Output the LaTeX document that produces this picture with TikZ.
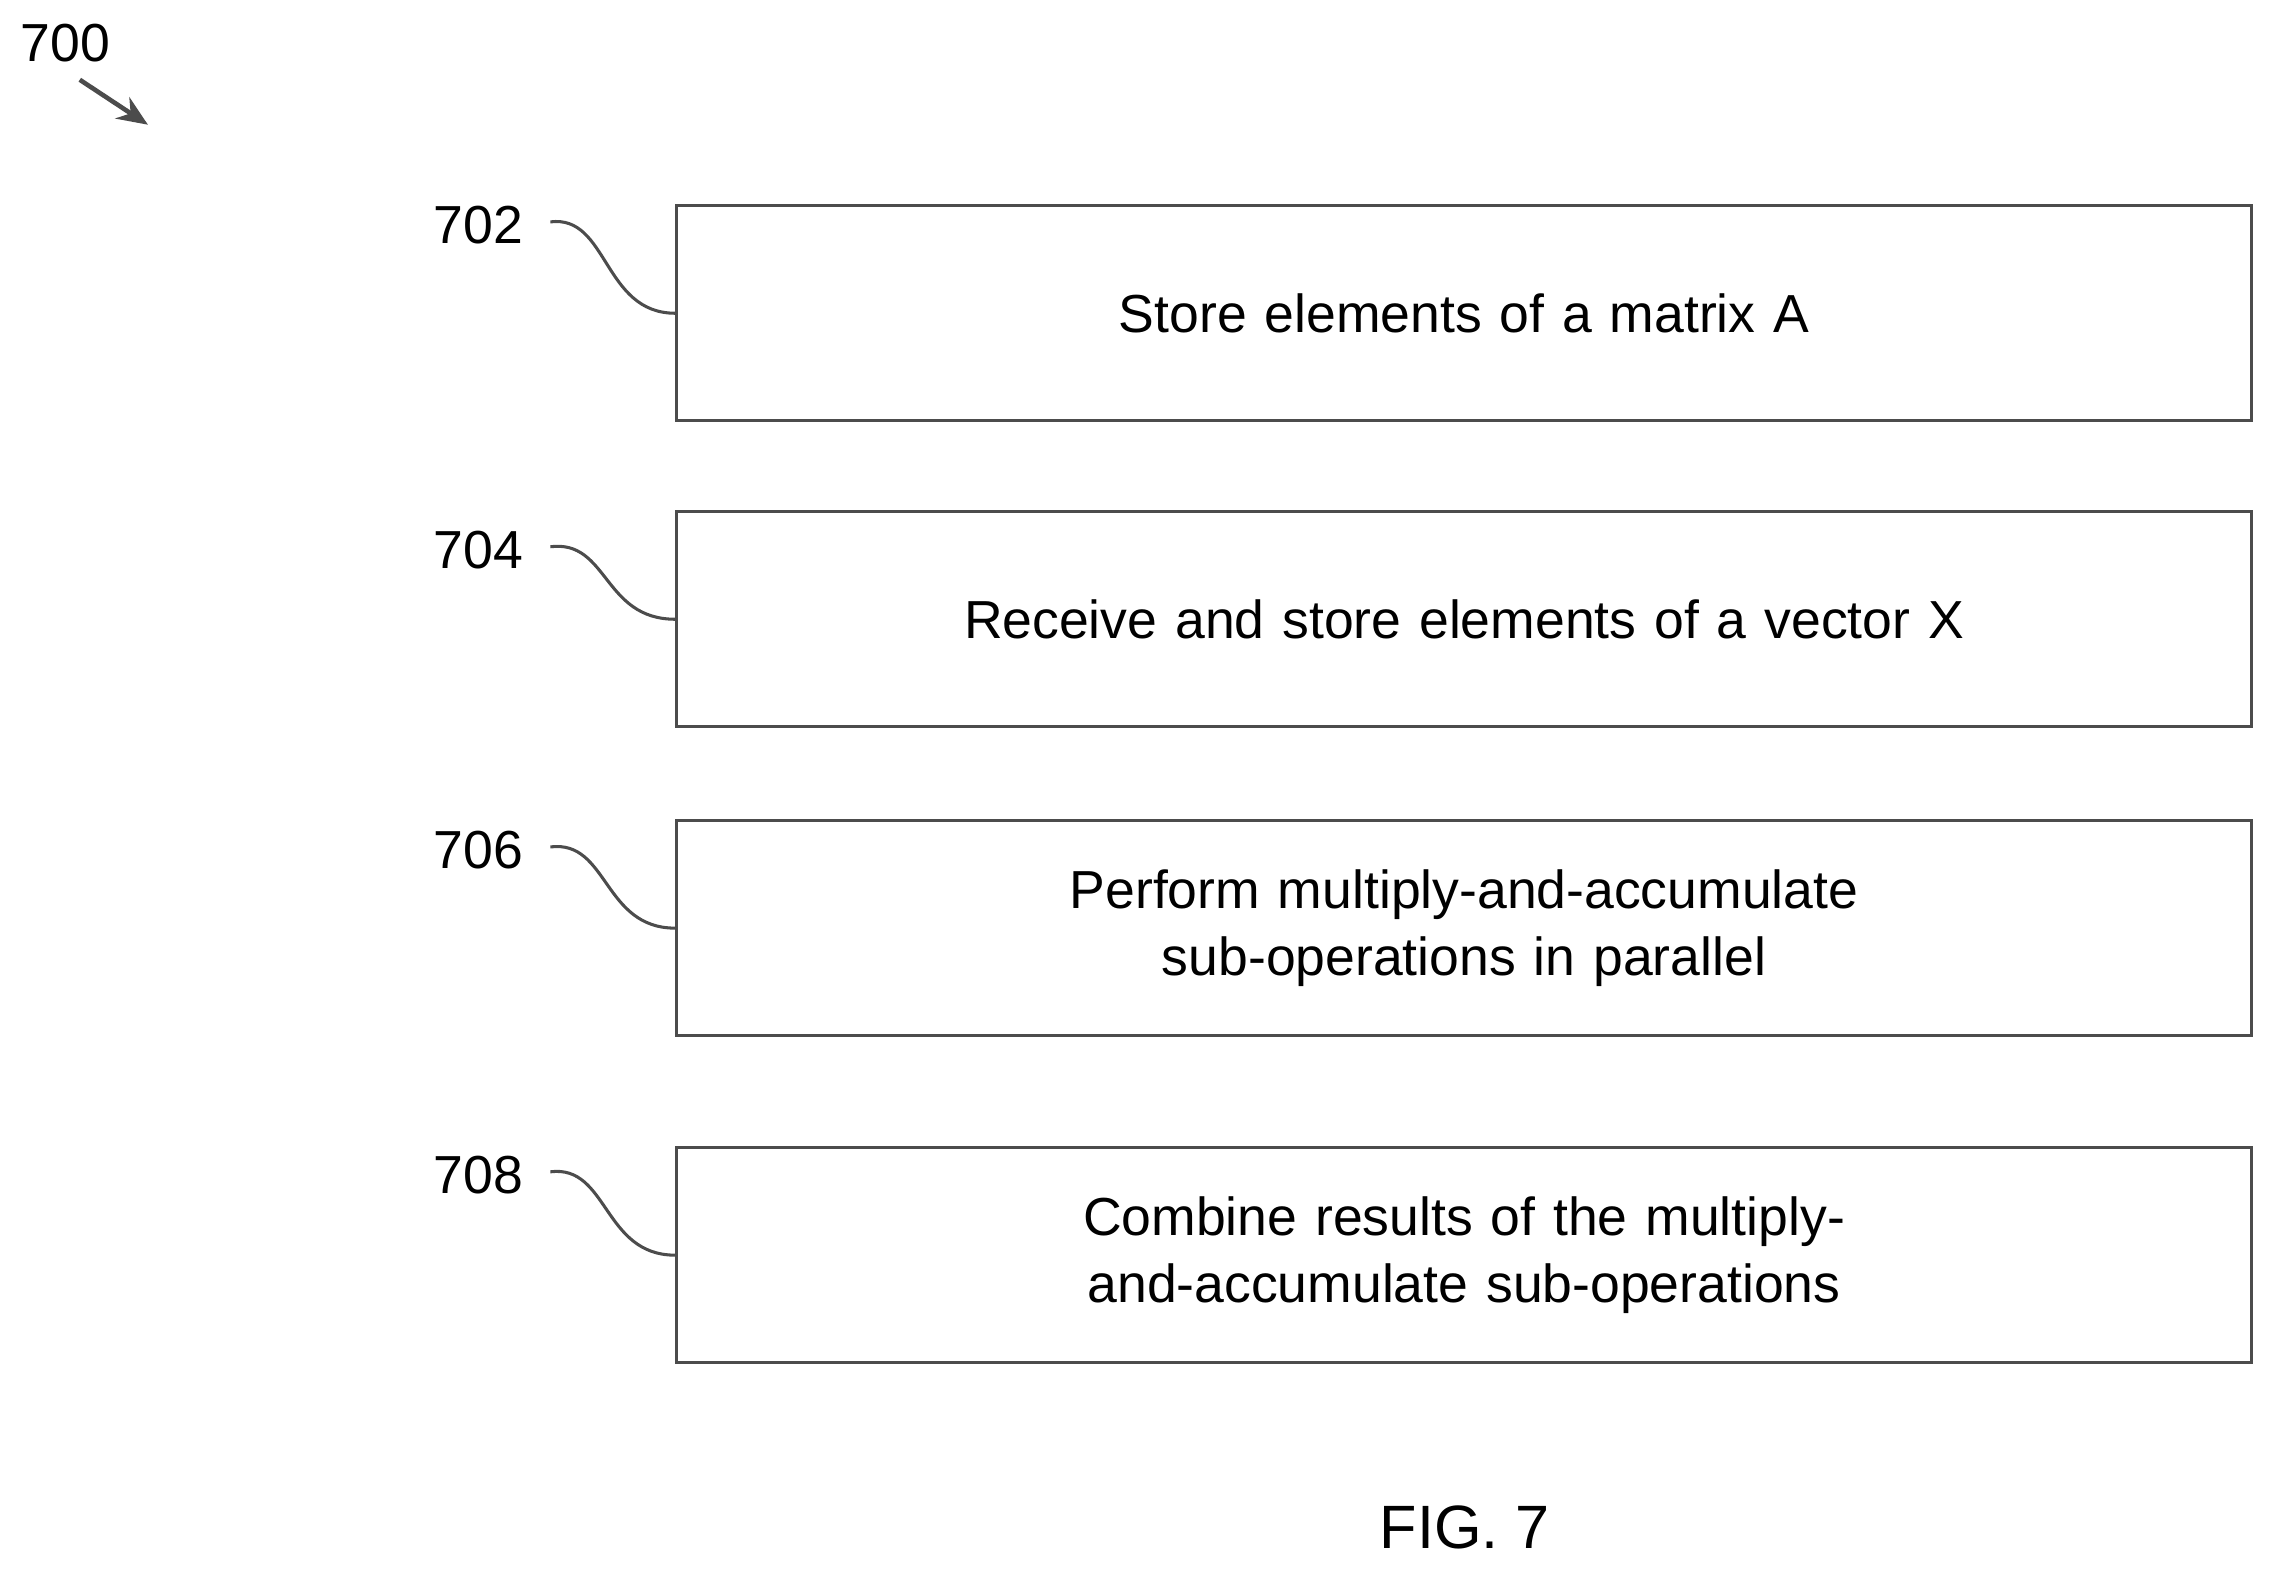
\documentclass[tikz,border=0pt]{standalone}
\usepackage{fontspec}
\setmainfont{Liberation Sans}
\usetikzlibrary{arrows.meta,positioning}
\tikzset{
	stepbox/.style={draw=black!70, line width=0.6pt, minimum width=10.85cm, minimum height=1.48cm, align=center, text width=9.6cm, inner sep=0pt},
	ref/.style={inner sep=0pt},
	lead/.style={draw=black!70, line width=0.6pt}
}
\begin{document}
\begin{tikzpicture}[x=0.01cm, y=-0.01cm, font=\fontsize{10.5}{13}\selectfont]
	\useasboundingbox (0,0) rectangle (1568,1082);
	\node [stepbox] (s1) at (1009.5, 216) {Store elements of a matrix A};
	\node [stepbox] (s2) at (1009.5, 427) {Receive and store elements of a vector X};
	\node [stepbox] (s3) at (1009.5, 640) {Perform multiply-and-accumulate sub-operations in parallel};
	\node [stepbox] (s4) at (1009.5, 865.5) {Combine results of the multiply-and-accumulate sub-operations};
	\node [ref] (r1) at (330, 155) {702};
	\node [ref] (r2) at (330, 379) {704};
	\node [ref] (r3) at (330, 586) {706};
	\node [ref] (r4) at (330, 810) {708};
	\node [ref] (r0) at (45, 30) {700};
	\coordinate (a0) at (55, 55);
	\coordinate (a1) at (102, 86);
	\node [font=\fontsize{12}{14}\selectfont] (fig) at (1010, 1053) {FIG. 7};
	\draw [line width=0.9pt, black!70, -{Stealth[length=6pt,width=5pt]}] (a0) -- (a1);
	\foreach \i in {1,...,4} {
		\draw [lead] (r\i.east) ++(18,-2) .. controls +(40,-5) and +(-50,0) .. (s\i.west);
	}
\end{tikzpicture}
\end{document}
